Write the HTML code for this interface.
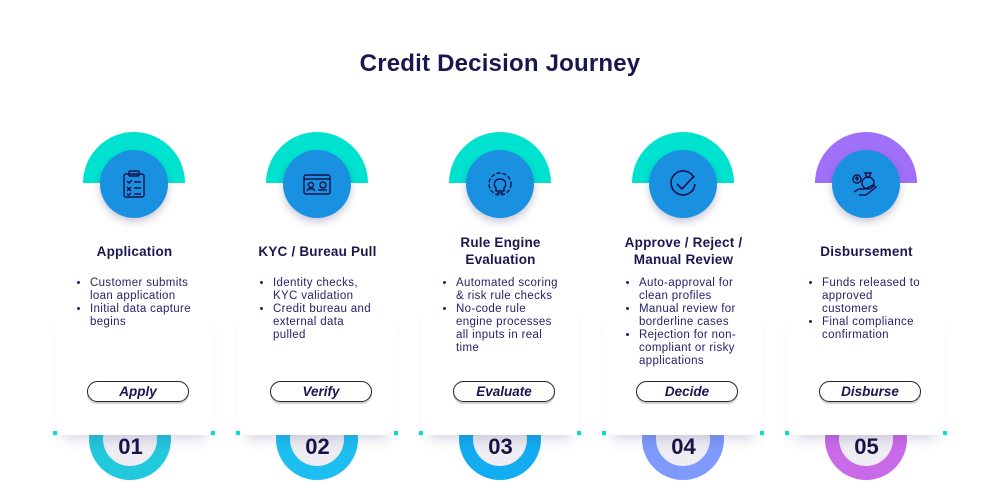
<!DOCTYPE html>
<html><head><meta charset="utf-8"><style>
*{margin:0;padding:0;box-sizing:border-box}
body{width:1000px;height:500px;background:#fff;position:relative;overflow:hidden;font-family:"Liberation Sans",sans-serif;color:#1c1a55}
h1{position:absolute;top:50px;left:0;width:1000px;text-align:center;font-size:24px;font-weight:bold;color:#1a1650;letter-spacing:0.2px}
.col{position:absolute;top:0;width:183px;height:500px}
.donut{position:absolute;left:50px;top:398px;width:82px;height:82px;border-radius:50%}
.donut .in{position:absolute;left:14px;top:14px;width:54px;height:54px;border-radius:50%;background:#eeedf3}
.num{position:absolute;left:0;width:183px;top:434px;text-align:center;font-size:22px;font-weight:bold;color:#1a1245}
.card{position:absolute;left:12px;top:300px;width:158px;height:135px;background:#fff;box-shadow:0 12px 12px -8px rgba(60,50,120,.2)}
.card:before,.card:after{content:"";position:absolute;bottom:0;width:4px;height:4px;background:#00e0d0}
.card:before{left:-2px}.card:after{right:-2px}
.semi{position:absolute;left:40px;top:132px;width:102px;height:51px;border-radius:51px 51px 0 0}
.circ{position:absolute;left:57px;top:150px;width:68px;height:68px;border-radius:50%;background:#1a90e0;box-shadow:0 4px 8px rgba(40,40,100,.25)}
.circ svg{position:absolute;left:18px;top:18px}
.title{position:absolute;left:0;width:183px;text-align:center;font-size:13.5px;font-weight:bold;line-height:17px;color:#1a1650;letter-spacing:0.2px}
ul{position:absolute;left:32px;top:277px;width:118px;font-size:11.5px;line-height:13px;padding-left:15px;color:#25236a;letter-spacing:0.35px}
.pill{position:absolute;left:44px;top:381px;width:102px;height:21px;border:1.3px solid #222;border-radius:11px;text-align:center;font-style:italic;font-weight:bold;font-size:13.5px;line-height:19px;color:#1a1650;box-shadow:0 2px 1px rgba(0,0,0,.2)}
</style></head><body>
<h1>Credit Decision Journey</h1>

<div class="col" style="left:43px">
<div class="donut" style="background:#22c8dc;left:46px"><div class="in"></div></div>
<div class="num" style="left:-4px">01</div>
<div class="card"></div>
<div class="semi" style="background:#00e2d0"></div>
<div class="circ"><svg width="32" height="32" viewBox="0 0 32 32" fill="none" stroke="#15124a" stroke-width="1.4"><rect x="6" y="6" width="20" height="23" rx="2"/><rect x="11" y="3" width="10" height="5" rx="1"/><path d="M9 13l2 2 3-3M9 19l4 4M13 19l-4 4M9 26l2 1 2-2M16 14h7M16 20h7M16 26h7"/></svg></div>
<div class="title" style="top:243px">Application</div>
<ul><li>Customer submits loan application</li><li>Initial data capture begins</li></ul>
<div class="pill">Apply</div>
</div>

<div class="col" style="left:226px">
<div class="donut" style="background:#1cbff0"><div class="in"></div></div>
<div class="num">02</div>
<div class="card"></div>
<div class="semi" style="background:#00e2d0"></div>
<div class="circ"><svg width="32" height="32" viewBox="0 0 32 32" fill="none" stroke="#15124a" stroke-width="1.4"><rect x="3" y="7" width="26" height="19" rx="2"/><path d="M3 11h26"/><circle cx="10" cy="17" r="2.5"/><path d="M6 23c1-3 7-3 8 0"/><circle cx="22" cy="17" r="3"/><path d="M17 22h9"/></svg></div>
<div class="title" style="top:243px">KYC / Bureau Pull</div>
<ul><li>Identity checks, KYC validation</li><li>Credit bureau and external data pulled</li></ul>
<div class="pill">Verify</div>
</div>

<div class="col" style="left:409px">
<div class="donut" style="background:#12adf0"><div class="in"></div></div>
<div class="num">03</div>
<div class="card"></div>
<div class="semi" style="background:#00e2d0"></div>
<div class="circ"><svg width="32" height="32" viewBox="0 0 32 32" fill="none" stroke="#15124a" stroke-width="1.4"><circle cx="16" cy="16" r="11" stroke-dasharray="4 2"/><path d="M12 20c-3-3-2-9 4-9s7 6 4 9v3h-8z"/><path d="M13 25h6"/></svg></div>
<div class="title" style="top:234px">Rule Engine<br>Evaluation</div>
<ul><li>Automated scoring &amp; risk rule checks</li><li>No-code rule engine processes all inputs in real time</li></ul>
<div class="pill">Evaluate</div>
</div>

<div class="col" style="left:592px">
<div class="donut" style="background:#7e9afc"><div class="in"></div></div>
<div class="num">04</div>
<div class="card"></div>
<div class="semi" style="background:#00e2d0"></div>
<div class="circ"><svg width="32" height="32" viewBox="0 0 32 32" fill="none" stroke="#15124a" stroke-width="1.6"><path d="M27 10A12 12 0 1 0 28 16"/><path d="M10 16l5 5 12-13"/></svg></div>
<div class="title" style="top:234px">Approve / Reject /<br>Manual Review</div>
<ul><li>Auto-approval for clean profiles</li><li>Manual review for borderline cases</li><li>Rejection for non-compliant or risky applications</li></ul>
<div class="pill">Decide</div>
</div>

<div class="col" style="left:775px">
<div class="donut" style="background:#c96ae8"><div class="in"></div></div>
<div class="num">05</div>
<div class="card"></div>
<div class="semi" style="background:#a070f8"></div>
<div class="circ"><svg width="32" height="32" viewBox="0 0 32 32" fill="none" stroke="#15124a" stroke-width="1.4"><circle cx="7" cy="11" r="4"/><path d="M7 13v-4M5 11l2-2 2 2"/><path d="M15 5h6l-2 4h-2z"/><circle cx="18" cy="15" r="6"/><path d="M4 24l5-3h6l8-4 3 2-10 8H9"/></svg></div>
<div class="title" style="top:243px">Disbursement</div>
<ul><li>Funds released to approved customers</li><li>Final compliance confirmation</li></ul>
<div class="pill">Disburse</div>
</div>
</body></html>
